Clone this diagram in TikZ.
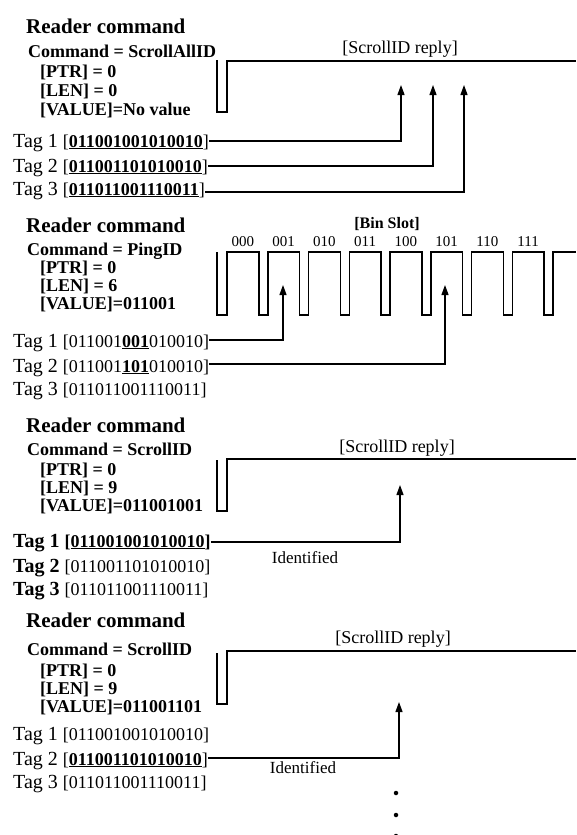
\documentclass[tikz,border=0pt]{standalone}
\usepackage{fontspec}
\setmainfont{Liberation Serif}
\usetikzlibrary{arrows.meta}
\newcommand\bitsz{\fontsize{18}{18}\selectfont}
\newcommand\ub[1]{\underline{\textbf{#1}}}
\tikzset{
  hdr/.style={font=\fontsize{21}{21}\selectfont\bfseries, anchor=base west, inner sep=0pt},
  cmd/.style={font=\fontsize{18}{18}\selectfont\bfseries, anchor=base west, inner sep=0pt},
  tagn/.style={font=\fontsize{20}{20}\selectfont, anchor=base west, inner sep=0pt},
  lbl/.style={font=\fontsize{18}{18}\selectfont, anchor=base, inner sep=0pt},
  blbl/.style={font=\fontsize{16}{16}\selectfont\bfseries, anchor=base, inner sep=0pt},
  slotlbl/.style={font=\fontsize{15}{15}\selectfont, anchor=base, inner sep=0pt},
  wave/.style={line width=1.5pt, line join=miter},
  conn/.style={line width=1.2pt, -{Triangle[width=7pt,length=10pt]}},
  dot/.style={circle, fill=black, inner sep=0pt, minimum size=4.5pt}
}
\begin{document}
\begin{tikzpicture}[x=1pt,y=-1pt]
\useasboundingbox (0,0) rectangle (576,835);
\fill[white] (0,0) rectangle (576,835);

% ---------- Panel 1 ----------
\node[hdr] (h1) at (26,33) {Reader command};
\node[cmd] (c1) at (28,57) {Command = ScrollAllID};
\node[cmd] (p1) at (40,77) {[PTR] = 0};
\node[cmd] (l1) at (40,96) {[LEN] = 0};
\node[cmd] (v1) at (40,115) {[VALUE]=No value};
\node[tagn] (t11) at (13,147) {Tag 1 {\bitsz[\ub{011001001010010}]}};
\node[tagn] (t12) at (13,172) {Tag 2 {\bitsz[\ub{011001101010010}]}};
\node[tagn] (t13) at (13,195) {Tag 3 {\bitsz[\ub{011011001110011}]}};
\node[lbl] (r1) at (400,53) {[ScrollID reply]};
\draw[wave] (217,60) -- (217,112) -- (227,112) -- (227,61) -- (576,61);
\coordinate (a11) at (401,85);
\coordinate (a12) at (433,85);
\coordinate (a13) at (464,85);
\draw[conn] ([yshift=6pt]t11.base east) -| (a11);
\draw[conn] ([yshift=6pt]t12.base east) -| (a12);
\draw[conn] ([yshift=3pt]t13.base east) -| (a13);

% ---------- Panel 2 ----------
\node[hdr] (h2) at (26,232) {Reader command};
\node[cmd] (c2) at (27,255) {Command = PingID};
\node[cmd] (p2) at (40,273) {[PTR] = 0};
\node[cmd] (l2) at (40,291) {[LEN] = 6};
\node[cmd] (v2) at (40,309) {[VALUE]=011001};
\node[tagn] (t21) at (13,347) {Tag 1 {\bitsz[011001\ub{001}010010]}};
\node[tagn] (t22) at (13,372) {Tag 2 {\bitsz[011001\ub{101}010010]}};
\node[tagn] (t23) at (13,395) {Tag 3 {\bitsz[011011001110011]}};
\node[blbl] (b2) at (387,228) {[Bin Slot]};
\foreach \k/\s in {0/000,1/001,2/010,3/011,4/100,5/101,6/110,7/111}
  \node[slotlbl] (s\k) at ({227+40.75*\k+15.9},246) {\s};
\draw[wave] (217,252) -- (217,315) -- (227,315) -- (227,252)
  \foreach \k in {1,...,8} { -- ({227+40.75*\k-9},252) -- ({227+40.75*\k-9},315) -- ({227+40.75*\k},315) -- ({227+40.75*\k},252) }
  -- (576,252);
\coordinate (a21) at (283,285);
\coordinate (a22) at (445,285);
\draw[conn] ([yshift=7pt]t21.base east) -| (a21);
\draw[conn] ([yshift=8pt]t22.base east) -| (a22);

% ---------- Panel 3 ----------
\node[hdr] (h3) at (26,432) {Reader command};
\node[cmd] (c3) at (27,455) {Command = ScrollID};
\node[cmd] (p3) at (40,475) {[PTR] = 0};
\node[cmd] (l3) at (40,493) {[LEN] = 9};
\node[cmd] (v3) at (40,511) {[VALUE]=011001001};
\node[tagn,font=\fontsize{20}{20}\selectfont\bfseries] (t31) at (13,547) {Tag 1 {\bitsz[\ub{011001001010010}]}};
\node[tagn,font=\fontsize{20}{20}\selectfont\bfseries] (t32) at (13,572) {Tag 2 {\bitsz\mdseries[011001101010010]}};
\node[tagn,font=\fontsize{20}{20}\selectfont\bfseries] (t33) at (13,595) {Tag 3 {\bitsz\mdseries[011011001110011]}};
\node[lbl] (r3) at (397,452) {[ScrollID reply]};
\draw[wave] (217,460) -- (217,511) -- (227,511) -- (227,459) -- (576,459);
\coordinate (a31) at (400,485);
\draw[conn] ([yshift=5pt]t31.base east) -| (a31);
\node[lbl,font=\fontsize{17}{17}\selectfont] (i3) at (305,563) {Identified};

% ---------- Panel 4 ----------
\node[hdr] (h4) at (26,627) {Reader command};
\node[cmd] (c4) at (27,655) {Command = ScrollID};
\node[cmd] (p4) at (40,676) {[PTR] = 0};
\node[cmd] (l4) at (40,694) {[LEN] = 9};
\node[cmd] (v4) at (40,712) {[VALUE]=011001101};
\node[tagn] (t41) at (13,740) {Tag 1 {\bitsz[011001001010010]}};
\node[tagn] (t42) at (13,765) {Tag 2 {\bitsz[\ub{011001101010010}]}};
\node[tagn] (t43) at (13,788) {Tag 3 {\bitsz[011011001110011]}};
\node[lbl] (r4) at (393,643) {[ScrollID reply]};
\draw[wave] (217,653) -- (217,704) -- (227,704) -- (227,651) -- (576,651);
\coordinate (a41) at (399,702);
\draw[conn] ([yshift=7pt]t42.base east) -| (a41);
\node[lbl,font=\fontsize{17}{17}\selectfont] (i4) at (303,773) {Identified};
\node[dot] (d1) at (396,793) {};
\node[dot] (d2) at (396,815) {};
\node[dot] (d3) at (396,836) {};
\end{tikzpicture}
\end{document}
